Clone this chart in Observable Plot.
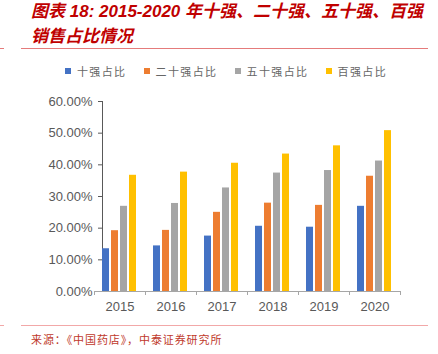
<!DOCTYPE html>
<html><head><meta charset="utf-8">
<script src="https://cdn.jsdelivr.net/npm/d3@7"></script>
<script src="https://cdn.jsdelivr.net/npm/@observablehq/plot@0.6"></script>
<style>
body{margin:0;background:#fff;width:438px;height:354px;overflow:hidden;position:relative;font-family:"Liberation Sans",Arial,sans-serif;}
#title{position:absolute;left:31px;top:-1px;color:#c00000;font-style:italic;font-weight:bold;font-size:17px;line-height:25px;font-family:"Liberation Sans","Noto Sans CJK SC",sans-serif;white-space:nowrap;}
.rule{position:absolute;height:1px;}
#legend{position:absolute;left:0;top:63px;width:438px;height:16px;display:flex;justify-content:center;align-items:center;padding-left:14px;box-sizing:border-box;}
.item{display:flex;align-items:center;margin-right:17px;font-size:11px;letter-spacing:1.4px;color:#666;font-family:"Noto Sans CJK SC",sans-serif;}
.item:last-child{margin-right:0}
.sw{width:6px;height:6px;margin-right:6px;}
#chart{position:absolute;left:0;top:88px;}
#source{position:absolute;left:31px;top:331px;font-size:11px;line-height:16px;letter-spacing:0.9px;color:#c0392b;font-family:"Noto Sans CJK SC",sans-serif;white-space:nowrap;}
</style>
</head><body>
<div id="title">图表 18: 2015-2020 年十强、二十强、五十强、百强<br>销售占比情况</div>
<div class="rule" style="left:0;top:48px;width:4px;background:#e57b7b"></div>
<div class="rule" style="left:21px;top:48px;width:407px;background:#e57b7b"></div>
<div id="legend"></div>
<div id="chart"></div>
<div class="rule" style="left:0;top:325px;width:4px;background:#f2a8a8"></div>
<div class="rule" style="left:21px;top:325px;width:407px;background:#f2a8a8"></div>
<div id="source">来源：《中国药店》，中泰证券研究所</div>
<script>
const years = ["2015", "2016", "2017", "2018", "2019", "2020"];
const series = ["十强占比", "二十强占比", "五十强占比", "百强占比"];
const top10 = [13.5, 14.4, 17.5, 20.6, 20.3, 26.9];
const top20 = [19.2, 19.3, 25.0, 27.9, 27.2, 36.4];
const top50 = [26.9, 27.8, 32.7, 37.4, 38.2, 41.2];
const top100 = [36.7, 37.7, 40.5, 43.4, 46.0, 50.8];
const colors = ["#4472C4", "#ED7D31", "#A5A5A5", "#FFC000"];
const yTicks = [0, 10, 20, 30, 40, 50, 60];

const values = [top10, top20, top50, top100];
const rows = [];
years.forEach((yr, i) => series.forEach((s, j) => rows.push({year: yr, series: s, value: values[j][i]})));

// legend
const leg = document.getElementById("legend");
series.forEach((s, j) => {
  const it = document.createElement("div"); it.className = "item";
  const sw = document.createElement("span"); sw.className = "sw"; sw.style.background = colors[j];
  const tx = document.createElement("span"); tx.textContent = s;
  it.appendChild(sw); it.appendChild(tx); leg.appendChild(it);
});

const W = 438, H = 232;
const chart = Plot.plot({
  width: W, height: H,
  marginTop: 13, marginBottom: 29, marginLeft: 94, marginRight: 38,
  style: {fontFamily: "'Liberation Sans', Arial, sans-serif", fontSize: "13px", color: "#595959", background: "transparent", overflow: "visible"},
  fx: {domain: years, paddingInner: 0.314, paddingOuter: 0.157, label: null, tickSize: 0, tickPadding: 10, axis: "bottom"},
  x: {domain: series, paddingInner: 0.17, paddingOuter: 0, axis: null},
  y: {domain: [0, 60], ticks: yTicks, tickFormat: d => d.toFixed(2) + "%", label: null, tickSize: 4, tickPadding: 6, line: true},
  color: {domain: series, range: colors},
  marks: [
    Plot.barY(rows, {fx: "year", x: "series", y: "value", fill: "series"})
  ]
});
document.getElementById("chart").appendChild(chart);

// x axis line with category boundary ticks (Excel style), from Plot's scales
const fx = chart.scale("fx"), y = chart.scale("y");
const svg = d3.select(chart);
const y0 = y.apply(0);
const step = fx.step, bw = fx.bandwidth;
const start = fx.apply(years[0]) - (step - bw) / 2;
const g = svg.append("g").attr("stroke", "#a6a6a6").attr("stroke-width", 1);
g.append("line").attr("x1", start).attr("x2", start + step * years.length).attr("y1", y0 + 0.5).attr("y2", y0 + 0.5);
for (let k = 0; k <= years.length; k++) {
  const xx = Math.round(start + k * step) + 0.5;
  g.append("line").attr("x1", xx).attr("x2", xx).attr("y1", y0).attr("y2", y0 + 4);
}
svg.selectAll('[aria-label="y-axis tick"], [aria-label="y-axis line"], [aria-label="y-axis"] line, [aria-label="y-axis"] path').attr("stroke", "#a6a6a6");
</script>
</body></html>
